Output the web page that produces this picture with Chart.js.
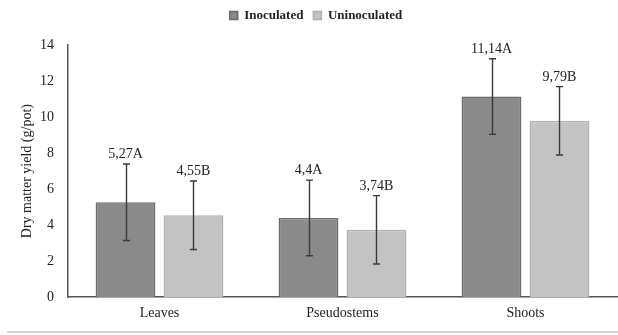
<!DOCTYPE html>
<html><head><meta charset="utf-8">
<script src="https://cdn.jsdelivr.net/npm/chart.js@4/dist/chart.umd.min.js"></script>
<style>
html,body{margin:0;padding:0;background:#fff;}
#wrap{position:relative;width:618px;height:335px;}
#line{position:absolute;left:7px;right:0;top:331px;height:0;border-top:2px solid #d6d6d6;}
</style></head>
<body>
<div id="wrap"><canvas id="c" width="618" height="335"></canvas><div id="line"></div></div>
<script>
const categories = ["Leaves", "Pseudostems", "Shoots"];
const inoculated = [5.27, 4.4, 11.14];
const uninoculated = [4.55, 3.74, 9.79];
const inoculatedSD = [2.12, 2.1, 2.1];
const uninoculatedSD = [1.9, 1.9, 1.9];
const inoculatedLabels = ["5,27A", "4,4A", "11,14A"];
const uninoculatedLabels = ["4,55B", "3,74B", "9,79B"];
const yTicks = [0, 2, 4, 6, 8, 10, 12, 14];

const FONT = "'Liberation Serif', 'Times New Roman', serif";

const legendGap = {
  id: 'legendGap',
  beforeInit(chart) {
    const lg = chart.legend;
    if (!lg) return;
    const fit = lg.fit;
    lg.fit = function () { fit.call(this); this.height += 13; };
  }
};

const errorBars = {
  id: 'errorBars',
  afterDatasetsDraw(chart) {
    const ctx = chart.ctx;
    const ys = chart.scales.y;
    chart.data.datasets.forEach((ds, di) => {
      const meta = chart.getDatasetMeta(di);
      meta.data.forEach((bar, i) => {
        const v = ds.data[i], sd = ds.sd[i];
        const yt = ys.getPixelForValue(v + sd);
        const yb = ys.getPixelForValue(v - sd);
        const x = Math.round(bar.x) + 0.5;
        ctx.save();
        ctx.strokeStyle = '#3a3a3a';
        ctx.lineWidth = 1.4;
        ctx.beginPath();
        ctx.moveTo(x, yt); ctx.lineTo(x, yb);
        ctx.moveTo(x - 3.5, yt); ctx.lineTo(x + 3.5, yt);
        ctx.moveTo(x - 3.5, yb); ctx.lineTo(x + 3.5, yb);
        ctx.stroke();
        ctx.fillStyle = '#222';
        ctx.font = '14px ' + FONT;
        ctx.textAlign = 'center';
        ctx.textBaseline = 'alphabetic';
        ctx.fillText(ds.labelsText[i], bar.x, yt - 6);
        ctx.restore();
      });
    });
  }
};

new Chart(document.getElementById('c'), {
  type: 'bar',
  data: {
    labels: categories,
    datasets: [
      { label: 'Inoculated', data: inoculated, sd: inoculatedSD, labelsText: inoculatedLabels,
        backgroundColor: '#8a8a8a', borderColor: '#6c6c6c', borderWidth: 1.5,
        categoryPercentage: 0.743, barPercentage: 0.88 },
      { label: 'Uninoculated', data: uninoculated, sd: uninoculatedSD, labelsText: uninoculatedLabels,
        backgroundColor: '#c3c3c3', borderColor: '#b0b0b0', borderWidth: 1.5,
        categoryPercentage: 0.743, barPercentage: 0.88 }
    ]
  },
  options: {
    responsive: false,
    animation: false,
    layout: { padding: { top: -1, right: 1, bottom: 5, left: 15 } },
    plugins: {
      tooltip: { enabled: false },
      legend: {
        position: 'top',
        labels: {
          boxWidth: 8, boxHeight: 8, padding: 10,
          color: '#222',
          font: { family: FONT, size: 13, weight: 'bold' }
        }
      }
    },
    scales: {
      x: {
        grid: { display: false, drawTicks: false },
        border: { display: true, color: '#555', width: 1.5 },
        ticks: { color: '#222', padding: 8, font: { family: FONT, size: 14 } }
      },
      y: {
        min: 0, max: 14,
        afterBuildTicks(scale) { scale.ticks = yTicks.map(v => ({ value: v })); },
        afterFit(scale) { scale.width = 53; },
        grid: { display: false, drawOnChartArea: false, drawTicks: true, tickLength: 4, tickColor: '#555' },
        border: { display: true, color: '#555', width: 1.5 },
        ticks: { color: '#222', padding: 10, font: { family: FONT, size: 14 } },
        title: { display: true, text: 'Dry matter yield (g/pot)', color: '#222', padding: 4,
          font: { family: FONT, size: 14 } }
      }
    }
  },
  plugins: [legendGap, errorBars]
});
</script>
</body></html>
